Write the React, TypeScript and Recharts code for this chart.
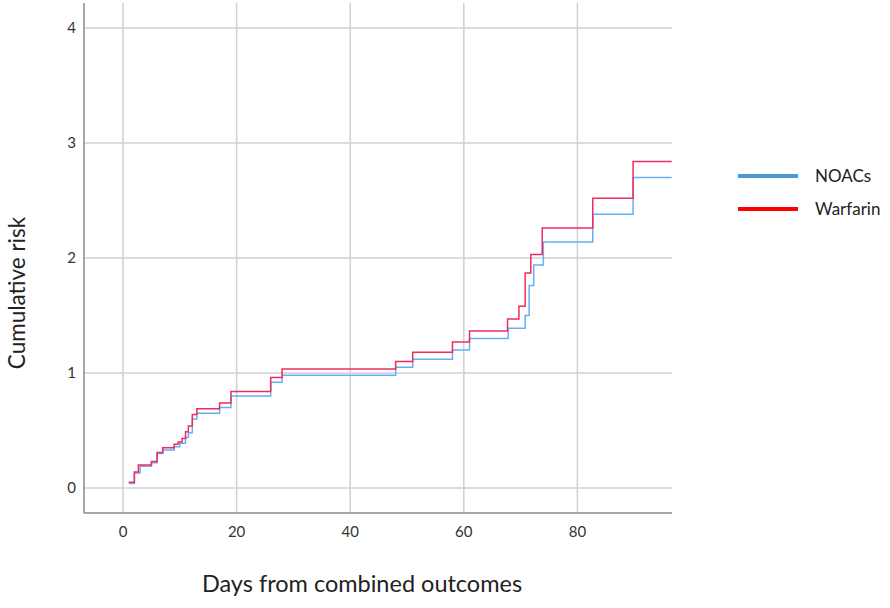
import React from 'react'
import { LineChart, Line, XAxis, YAxis, ReferenceLine } from 'recharts'

// step points (day, cumulative risk)
const noacDays = [1, 2, 3, 5, 6, 7, 9, 10, 11, 11.5, 12.2, 13, 17, 19, 26, 28, 48, 51, 58, 61, 67.8, 70.8, 71.5, 72.3, 74, 82.7, 89.8, 96.6]
const noacRisk = [0.04, 0.13, 0.19, 0.22, 0.30, 0.33, 0.36, 0.39, 0.44, 0.48, 0.60, 0.65, 0.70, 0.80, 0.92, 0.98, 1.05, 1.12, 1.20, 1.30, 1.39, 1.50, 1.76, 1.94, 2.14, 2.38, 2.70, 2.70]

const warfarinDays = [1, 2, 2.7, 5, 6, 7, 9, 9.7, 10.4, 11, 11.5, 12.2, 13, 17, 19, 26, 28, 48, 51, 58, 61, 67.7, 69.7, 70.8, 71.8, 73.8, 82.7, 89.8, 96.6]
const warfarinRisk = [0.05, 0.14, 0.20, 0.23, 0.31, 0.35, 0.38, 0.40, 0.43, 0.49, 0.54, 0.64, 0.69, 0.74, 0.84, 0.96, 1.035, 1.10, 1.18, 1.27, 1.365, 1.47, 1.58, 1.87, 2.03, 2.26, 2.52, 2.84, 2.84]

const xTicks = [0, 20, 40, 60, 80]
const yTicks = [0, 1, 2, 3, 4]

const noacData = noacDays.map((d, i) => ({ day: d, risk: noacRisk[i] }))
const warfarinData = warfarinDays.map((d, i) => ({ day: d, risk: warfarinRisk[i] }))

const font = 'Lato, "Open Sans", sans-serif'
const gridColor = '#d0d0d0'

export default function App () {
  return (
    <div style={{ position: 'absolute', left: 0, top: 0, width: 890, height: 608, background: '#fff', fontFamily: font }}>
      <LineChart width={890} height={608} margin={{ top: 3, right: 218, bottom: 65, left: 54 }}>
        <XAxis
          dataKey="day"
          type="number"
          domain={[-6.87, 96.65]}
          ticks={xTicks}
          allowDataOverflow
          height={30}
          tickLine={false}
          tickMargin={7}
          stroke="#8a8a8a"
          strokeWidth={1.5}
          tick={{ fill: '#333', fontSize: 15, fontFamily: font }}
        />
        <YAxis
          type="number"
          domain={[-0.217, 4.217]}
          ticks={yTicks}
          allowDataOverflow
          width={30}
          tickLine={false}
          tickMargin={2}
          stroke="#8a8a8a"
          strokeWidth={1.5}
          tick={{ fill: '#333', fontSize: 15, fontFamily: font }}
        />
        {xTicks.map(t => <ReferenceLine key={'x' + t} x={t} stroke={gridColor} strokeWidth={1.5} />)}
        {yTicks.map(t => <ReferenceLine key={'y' + t} y={t} stroke={gridColor} strokeWidth={1.5} />)}
        <Line data={noacData} dataKey="risk" type="stepAfter" stroke="#6aaef2" strokeWidth={1.5} dot={false} isAnimationActive={false} />
        <Line data={warfarinData} dataKey="risk" type="stepAfter" stroke="#ee2d5c" strokeWidth={1.5} dot={false} isAnimationActive={false} />
      </LineChart>

      <div style={{ position: 'absolute', left: 0, width: 724, top: 569, textAlign: 'center', fontSize: 23.5, color: '#222' }}>
        Days from combined outcomes
      </div>
      <div style={{ position: 'absolute', left: 16, top: 293, transform: 'translate(-50%, -50%) rotate(-90deg)', whiteSpace: 'nowrap', fontSize: 22.5, color: '#222' }}>
        Cumulative risk
      </div>

      <div style={{ position: 'absolute', left: 738, top: 159, fontSize: 17, color: '#222' }}>
        {[{ name: 'NOACs', color: '#4a9ad8' }, { name: 'Warfarin', color: '#ff0000' }].map(item => (
          <div key={item.name} style={{ display: 'flex', alignItems: 'center', height: 33 }}>
            <div style={{ width: 60, height: 4, background: item.color, marginRight: 17 }} />
            <span>{item.name}</span>
          </div>
        ))}
      </div>
    </div>
  )
}
